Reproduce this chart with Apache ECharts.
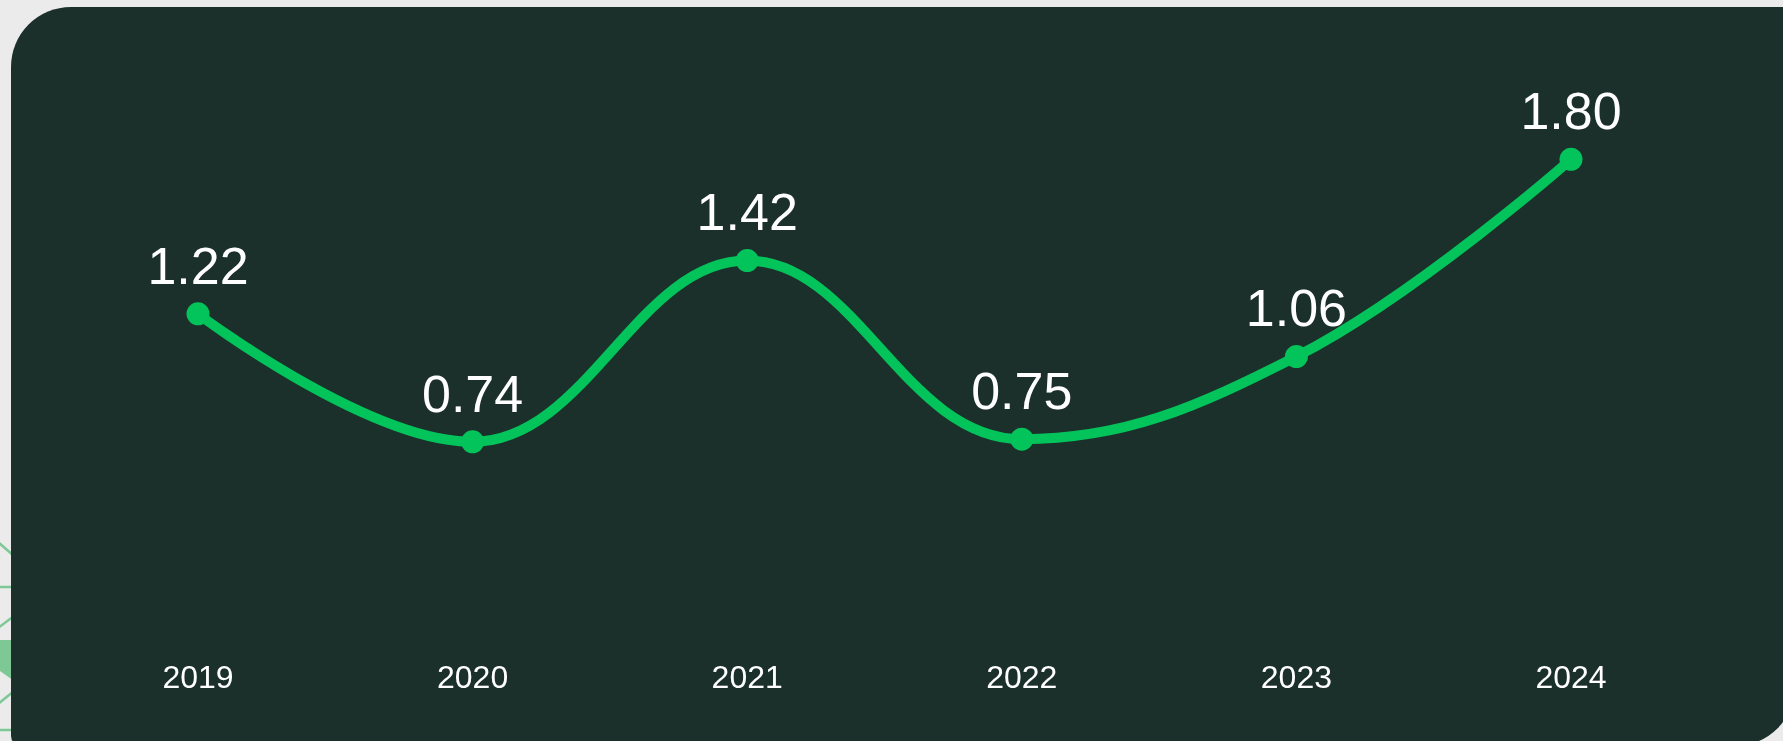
<!DOCTYPE html>
<html>
<head>
<meta charset="utf-8">
<script src="https://cdn.jsdelivr.net/npm/echarts@6/dist/echarts.min.js"></script>
<style>
  html, body { margin: 0; padding: 0; width: 1783px; height: 741px; overflow: hidden; background: #ebebeb; }
  #deco { position: absolute; left: 0; top: 0; width: 1783px; height: 741px; }
  #panel { position: absolute; left: 11px; top: 7px; width: 1784px; height: 739px; background: #1b302b;
           border-radius: 60px 0 60px 10px; }
  #chart { position: absolute; left: 0; top: 0; width: 1783px; height: 741px; }
</style>
</head>
<body>
<svg id="deco" width="1783" height="741">
  <g stroke="#7dc895" stroke-width="2.5" fill="none">
    <line x1="-2" y1="542" x2="14" y2="556"/>
    <line x1="-2" y1="587" x2="14" y2="587"/>
    <line x1="-2" y1="628" x2="14" y2="616"/>
    <line x1="-2" y1="704" x2="14" y2="691"/>
    <line x1="-2" y1="730" x2="14" y2="730"/>
  </g>
  <polygon points="0,640 14,640 14,681 0,671" fill="#7dc895"/>
</svg>
<div id="panel"></div>
<div id="chart"></div>
<script>
const years = ['2019', '2020', '2021', '2022', '2023', '2024'];
const values = [1.22, 0.74, 1.42, 0.75, 1.06, 1.80];

const chart = echarts.init(document.getElementById('chart'), null, { renderer: 'canvas' });
chart.setOption({
  backgroundColor: 'transparent',
  animation: false,
  grid: { left: 198, right: 212, top: 106, bottom: 102 },
  xAxis: {
    type: 'category',
    data: years,
    boundaryGap: false,
    axisLine: { show: false },
    axisTick: { show: false },
    splitLine: { show: false },
    axisLabel: { color: '#ffffff', fontSize: 32, fontFamily: 'Liberation Sans', margin: 24 }
  },
  yAxis: {
    type: 'value',
    min: 0,
    max: 2,
    show: false,
    splitLine: { show: false }
  },
  series: [{
    type: 'line',
    data: values,
    smooth: 0.4,
    symbol: 'circle',
    symbolSize: 23,
    lineStyle: { color: '#03c35b', width: 10 },
    itemStyle: { color: '#03c35b' },
    label: {
      show: true,
      position: 'top',
      distance: 7,
      color: '#ffffff',
      fontSize: 52,
      fontFamily: 'Liberation Sans',
      formatter: p => p.value.toFixed(2)
    }
  }]
});
</script>
</body>
</html>
